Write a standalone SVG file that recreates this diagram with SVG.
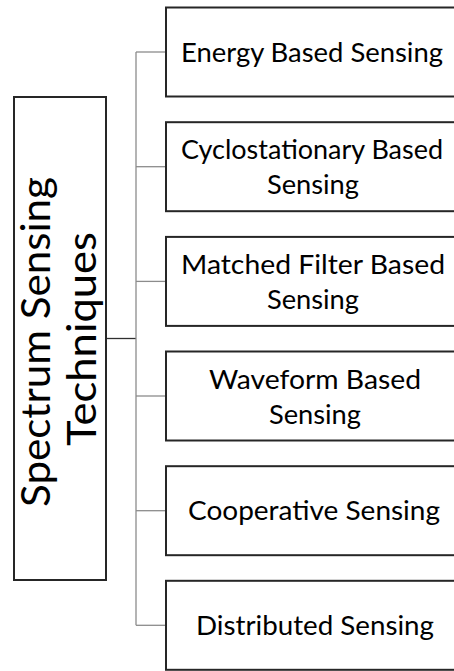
<svg xmlns="http://www.w3.org/2000/svg" width="454" height="671" viewBox="0 0 454 671">
  <style>
    .box { fill: #ffffff; stroke: #262626; stroke-width: 2; }
    .lbl { font-family: Lato, "Open Sans", "Liberation Sans", sans-serif; font-size: 27.5px; fill: #000000; text-anchor: middle; }
    .root { font-family: Lato, "Open Sans", "Liberation Sans", sans-serif; font-size: 40px; fill: #000000; text-anchor: middle; }
    .wire { stroke: #8c8c8c; stroke-width: 1.3; fill: none; }
    .stub { stroke: #303030; stroke-width: 1.3; fill: none; }
  </style>
  <rect width="454" height="671" fill="#ffffff"/>

  <!-- connectors: trunk from the root box, spine, and one branch per technique -->
  <g id="connectors">
    <line class="stub" x1="106" y1="338.5" x2="136" y2="338.5"/>
    <line class="wire" x1="136" y1="52" x2="136" y2="625.3"/>
    <line class="wire" x1="136" y1="52" x2="166" y2="52"/>
    <line class="wire" x1="136" y1="166.7" x2="166" y2="166.7"/>
    <line class="wire" x1="136" y1="281.4" x2="166" y2="281.4"/>
    <line class="wire" x1="136" y1="396" x2="166" y2="396"/>
    <line class="wire" x1="136" y1="510.7" x2="166" y2="510.7"/>
    <line class="wire" x1="136" y1="625.3" x2="166" y2="625.3"/>
  </g>

  <!-- root node, vertical title -->
  <g id="root">
    <rect class="box" x="14" y="97" width="92" height="483"/>
    <text class="root" transform="translate(50,342) rotate(-90)" textLength="330" lengthAdjust="spacingAndGlyphs">Spectrum Sensing</text>
    <text class="root" transform="translate(96,339) rotate(-90)" textLength="214" lengthAdjust="spacingAndGlyphs">Techniques</text>
  </g>

  <g id="energy">
    <rect class="box" x="166" y="7.5" width="300" height="89"/>
    <text class="lbl" x="312" y="61.5" textLength="262" lengthAdjust="spacingAndGlyphs">Energy Based Sensing</text>
  </g>

  <g id="cyclostationary">
    <rect class="box" x="166" y="122.2" width="300" height="89"/>
    <text class="lbl" x="312" y="159" textLength="262" lengthAdjust="spacingAndGlyphs">Cyclostationary Based</text>
    <text class="lbl" x="313" y="194" textLength="92" lengthAdjust="spacingAndGlyphs">Sensing</text>
  </g>

  <g id="matched-filter">
    <rect class="box" x="166" y="236.9" width="300" height="89"/>
    <text class="lbl" x="313" y="274.2" textLength="264" lengthAdjust="spacingAndGlyphs">Matched Filter Based</text>
    <text class="lbl" x="313" y="309.2" textLength="92" lengthAdjust="spacingAndGlyphs">Sensing</text>
  </g>

  <g id="waveform">
    <rect class="box" x="166" y="351.5" width="300" height="89"/>
    <text class="lbl" x="315" y="388.8" textLength="212" lengthAdjust="spacingAndGlyphs">Waveform Based</text>
    <text class="lbl" x="315" y="423.8" textLength="92" lengthAdjust="spacingAndGlyphs">Sensing</text>
  </g>

  <g id="cooperative">
    <rect class="box" x="166" y="466.2" width="300" height="89"/>
    <text class="lbl" x="314" y="520.4" textLength="252" lengthAdjust="spacingAndGlyphs">Cooperative Sensing</text>
  </g>

  <g id="distributed">
    <rect class="box" x="166" y="580.8" width="300" height="89"/>
    <text class="lbl" x="315" y="635" textLength="238" lengthAdjust="spacingAndGlyphs">Distributed Sensing</text>
  </g>
</svg>
